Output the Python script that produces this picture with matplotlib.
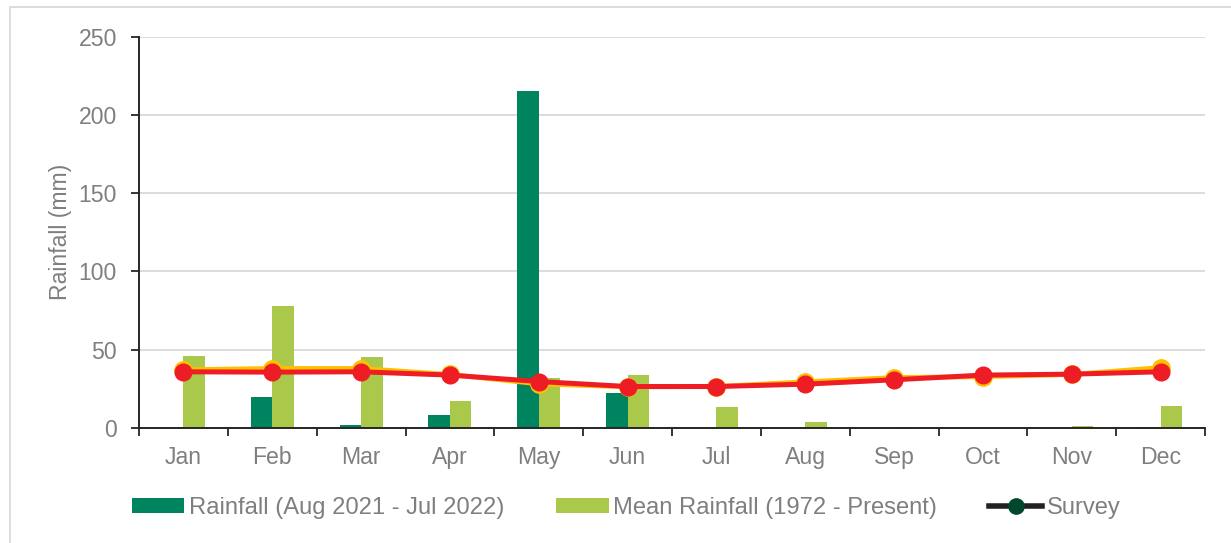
#!/usr/bin/env python3
# -*- coding: utf-8 -*-

import numpy as np
import matplotlib
matplotlib.use('Agg')
import matplotlib.pyplot as plt
from matplotlib.lines import Line2D
from matplotlib.patches import Patch, Rectangle

# data
months = ['Jan', 'Feb', 'Mar', 'Apr', 'May', 'Jun',
          'Jul', 'Aug', 'Sep', 'Oct', 'Nov', 'Dec']
rainfall = [0, 20, 2, 8.5, 215, 22.3, 0, 0, 0, 0, 0, 0.8]
mean_rainfall = [46.2, 77.7, 45.4, 17.2, 31.9, 34.1, 13.6, 3.8, 0.8, 0, 1.0, 14.2]
line_red = [35.9, 35.7, 35.9, 33.8, 29.7, 26.5, 26.5, 28.0, 30.8, 33.8, 34.4, 35.9]
line_orange = [37.2, 38.0, 38.0, 34.2, 28.2, 26.3, 26.5, 29.5, 32.2, 32.8, 34.2, 38.6]
legend_labels = ['Rainfall (Aug 2021 - Jul 2022)', 'Mean Rainfall (1972 - Present)', 'Survey']

DARK = '#00835F'
LIGHT = '#AAC94A'
RED = '#EE1D25'
ORANGE = '#FFC000'
GREY = '#7F7F7F'
FS = 16.6
LEG_FS = 17.1

plt.rcParams['font.family'] = ['Liberation Sans', 'DejaVu Sans']

fig = plt.figure(figsize=(12.31, 5.43), dpi=100)
ax = fig.add_axes([0.1129, 0.2118, 0.8661, 0.7206])

# outer frame (right and bottom edges fall outside the picture)
fig.patches.append(Rectangle((10 / 1231, -0.1), 1.2, 1.1 - 7 / 543,
                             transform=fig.transFigure, fill=False,
                             edgecolor='#D9D9D9', linewidth=1.3))

x = np.arange(len(months))
w = 0.242
ax.bar(x - w / 2, rainfall, width=w, color=DARK, zorder=2)
ax.bar(x + w / 2, mean_rainfall, width=w, color=LIGHT, zorder=2)

ax.plot(x, line_orange, color=ORANGE, linewidth=3.5, marker='o',
        markersize=12.5, zorder=3)
ax.plot(x, line_red, color=RED, linewidth=3.6, marker='o',
        markersize=12, zorder=4)

ax.set_xlim(-0.5, len(months) - 0.5)
ax.set_ylim(0, 250)
ax.set_yticks([0, 50, 100, 150, 200, 250])
ax.grid(axis='y', color='#D9D9D9', linewidth=1.3, zorder=0)
ax.set_axisbelow(True)

ax.set_xticks(x)
ax.set_xticklabels(months)
ax.set_xticks(np.arange(-0.5, len(months)), minor=True)
ax.tick_params(axis='x', which='major', length=0, pad=13, labelsize=FS, labelcolor=GREY)
ax.tick_params(axis='x', which='minor', length=6, width=1.3, color='#262626')
ax.tick_params(axis='y', length=6, width=1.3, color='#262626', labelsize=FS,
               labelcolor=GREY, pad=10)

for s in ['top', 'right']:
  ax.spines[s].set_visible(False)
for s in ['left', 'bottom']:
  ax.spines[s].set_color('#262626')
  ax.spines[s].set_linewidth(1.4)

ax.set_ylabel('Rainfall (mm)', fontsize=FS, color=GREY, labelpad=4.5)

handles = [
  Patch(facecolor=DARK),
  Patch(facecolor=LIGHT),
  Line2D([], [], color='#222222', linewidth=4, marker='o', markersize=11,
         markerfacecolor='#00472B', markeredgecolor='#00472B'),
]
leg = fig.legend(handles, legend_labels, loc='center', ncol=3,
                 bbox_to_anchor=(0.5085, 1 - 508 / 543), frameon=False,
                 fontsize=LEG_FS, handlelength=2.2, handleheight=0.55,
                 handletextpad=0.2, columnspacing=2.2)
for t in leg.get_texts():
  t.set_color(GREY)

fig.savefig('out.png', dpi=100)
